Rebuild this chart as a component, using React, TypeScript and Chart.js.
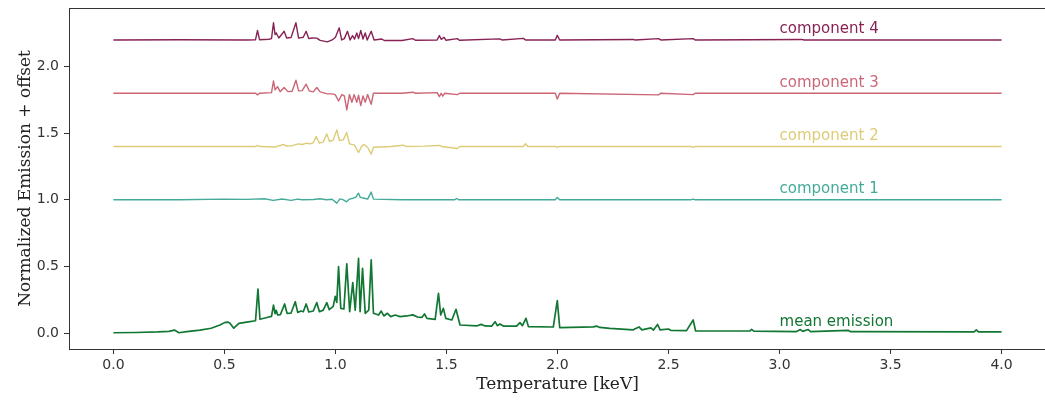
import React, { useEffect, useRef } from "react";
import { Chart, registerables } from "chart.js";

Chart.register(...registerables);

// ---------- data ----------
const X_TICKS = [0, 0.5, 1, 1.5, 2, 2.5, 3, 3.5, 4];
const Y_TICKS = [0, 0.5, 1, 1.5, 2];
const SERIES_NAMES = ["mean emission", "component 1", "component 2", "component 3", "component 4"];
const SERIES_COLORS = ["#117733", "#44AA99", "#DDCC77", "#CC6677", "#882255"];
const OFFSETS = [0, 1.0, 1.4, 1.8, 2.2];
const LABEL_X = 3.0;
const LABEL_DY = 0.05;

const meanX = [0, 0.1, 0.2, 0.25, 0.275, 0.295, 0.33, 0.39, 0.44, 0.48, 0.5, 0.515, 0.525, 0.542, 0.565, 0.6, 0.64, 0.651, 0.66, 0.7, 0.712, 0.721, 0.728, 0.733, 0.74, 0.752, 0.771, 0.782, 0.8, 0.819, 0.83, 0.845, 0.855, 0.868, 0.88, 0.9, 0.916, 0.928, 0.945, 0.961, 0.972, 0.99, 0.999, 1.006, 1.014, 1.024, 1.038, 1.051, 1.064, 1.078, 1.089, 1.104, 1.111, 1.122, 1.134, 1.15, 1.161, 1.171, 1.194, 1.206, 1.218, 1.234, 1.249, 1.269, 1.291, 1.321, 1.348, 1.37, 1.39, 1.401, 1.412, 1.449, 1.464, 1.474, 1.486, 1.497, 1.524, 1.543, 1.561, 1.636, 1.656, 1.674, 1.704, 1.719, 1.729, 1.741, 1.756, 1.816, 1.831, 1.842, 1.858, 1.869, 1.981, 1.999, 2.01, 2.161, 2.176, 2.19, 2.236, 2.341, 2.367, 2.38, 2.421, 2.432, 2.451, 2.462, 2.499, 2.51, 2.581, 2.611, 2.622, 2.866, 2.874, 2.884, 3.076, 3.094, 3.104, 3.129, 3.14, 3.309, 3.32, 3.876, 3.886, 3.896, 4.0];
const meanY = [0.002, 0.004, 0.008, 0.012, 0.022, 0.002, 0.010, 0.022, 0.036, 0.060, 0.078, 0.082, 0.074, 0.036, 0.072, 0.082, 0.092, 0.330, 0.103, 0.120, 0.125, 0.210, 0.145, 0.170, 0.135, 0.138, 0.218, 0.148, 0.150, 0.235, 0.155, 0.165, 0.160, 0.218, 0.158, 0.165, 0.228, 0.160, 0.172, 0.228, 0.175, 0.200, 0.275, 0.230, 0.499, 0.185, 0.180, 0.519, 0.160, 0.378, 0.172, 0.561, 0.160, 0.486, 0.148, 0.172, 0.549, 0.148, 0.135, 0.165, 0.128, 0.148, 0.123, 0.135, 0.123, 0.128, 0.136, 0.120, 0.118, 0.143, 0.110, 0.103, 0.298, 0.135, 0.185, 0.110, 0.098, 0.178, 0.060, 0.053, 0.065, 0.053, 0.052, 0.085, 0.055, 0.068, 0.052, 0.052, 0.078, 0.055, 0.110, 0.048, 0.045, 0.243, 0.040, 0.046, 0.052, 0.042, 0.035, 0.024, 0.046, 0.023, 0.038, 0.022, 0.064, 0.023, 0.030, 0.020, 0.018, 0.098, 0.015, 0.015, 0.027, 0.014, 0.011, 0.026, 0.012, 0.026, 0.011, 0.020, 0.010, 0.008, 0.023, 0.008, 0.008];

const comp1X = [0, 0.3, 0.5, 0.6, 0.68, 0.72, 0.76, 0.8, 0.83, 0.85, 0.9, 0.93, 0.96, 0.985, 1.006, 1.02, 1.036, 1.05, 1.062, 1.08, 1.092, 1.104, 1.112, 1.13, 1.145, 1.161, 1.171, 1.3, 1.536, 1.546, 1.556, 1.99, 1.999, 2.01, 2.6, 2.611, 2.62, 4.0];
const comp1Y = [0, 0, 0.005, 0.003, 0.008, -0.004, 0.006, -0.004, 0.005, 0, 0.002, 0.008, 0, 0.004, -0.025, 0.007, 0, -0.015, 0.005, 0.012, 0.02, 0.05, 0.018, 0.012, 0.005, 0.058, 0.005, 0, 0, 0.01, 0, 0, 0.018, 0, 0, 0.005, 0, 0];

const comp2X = [0, 0.4, 0.64, 0.649, 0.66, 0.73, 0.766, 0.78, 0.8, 0.834, 0.85, 0.871, 0.885, 0.9, 0.913, 0.928, 0.945, 0.961, 0.973, 0.99, 1.006, 1.018, 1.035, 1.051, 1.063, 1.085, 1.104, 1.119, 1.129, 1.145, 1.161, 1.171, 1.25, 1.306, 1.32, 1.4, 1.467, 1.48, 1.549, 1.56, 1.846, 1.856, 1.866, 1.99, 1.999, 2.01, 2.6, 2.611, 2.62, 4.0];
const comp2Y = [0, 0, 0, 0.008, 0, -0.003, 0.015, 0.004, 0.005, 0.02, 0.015, 0.025, 0.02, 0.028, 0.075, 0.025, 0.035, 0.095, 0.038, 0.048, 0.125, 0.045, 0.05, 0.105, 0.02, 0.012, -0.045, 0.005, 0.015, -0.005, -0.058, -0.005, 0, 0.01, 0, 0.003, 0.008, 0, -0.015, 0, 0, 0.021, 0, 0, -0.005, 0, 0, -0.006, 0, 0];

const comp3X = [0, 0.64, 0.649, 0.658, 0.712, 0.721, 0.728, 0.739, 0.751, 0.769, 0.786, 0.805, 0.822, 0.834, 0.85, 0.868, 0.882, 0.9, 0.916, 0.931, 0.964, 0.985, 0.999, 1.014, 1.029, 1.04, 1.051, 1.063, 1.074, 1.084, 1.096, 1.104, 1.114, 1.124, 1.134, 1.145, 1.161, 1.171, 1.3, 1.348, 1.36, 1.458, 1.468, 1.476, 1.483, 1.492, 1.549, 1.56, 1.99, 1.999, 2.01, 2.455, 2.465, 2.611, 2.62, 4.0];
const comp3Y = [0, 0, -0.012, 0, 0.005, 0.093, 0.025, 0.05, 0.012, 0.043, 0.012, 0.015, 0.098, 0.018, 0.02, 0.068, 0.018, 0.01, 0.043, 0.01, -0.005, -0.005, -0.01, -0.058, -0.01, -0.02, -0.125, -0.01, -0.068, -0.01, -0.068, -0.015, -0.093, -0.02, -0.068, -0.01, -0.083, 0, 0, 0.008, 0, 0.005, -0.025, 0, -0.022, 0, -0.01, 0, 0, -0.044, 0, -0.012, 0, -0.01, 0, 0];

const comp4X = [0, 0.3, 0.6, 0.64, 0.649, 0.658, 0.7, 0.712, 0.721, 0.728, 0.733, 0.745, 0.769, 0.78, 0.8, 0.822, 0.834, 0.855, 0.868, 0.88, 0.894, 0.916, 0.931, 0.964, 0.985, 1.0, 1.017, 1.028, 1.04, 1.054, 1.066, 1.077, 1.086, 1.096, 1.104, 1.114, 1.124, 1.134, 1.143, 1.161, 1.174, 1.209, 1.22, 1.3, 1.348, 1.36, 1.458, 1.468, 1.476, 1.489, 1.498, 1.549, 1.558, 1.739, 1.75, 1.847, 1.856, 1.99, 1.999, 2.01, 2.34, 2.35, 2.455, 2.465, 2.611, 2.62, 3.1, 3.11, 4.0];
const comp4Y = [0, 0.002, 0, 0.002, 0.071, 0.002, 0.005, 0.01, 0.129, 0.04, 0.053, 0.015, 0.065, 0.015, 0.018, 0.129, 0.014, 0.02, 0.065, 0.01, 0.015, 0.014, -0.003, -0.014, 0, 0.02, 0.091, 0, 0.01, 0.065, 0, 0.032, 0.007, 0.053, 0.01, 0.071, 0.007, 0.053, 0, 0.065, 0, 0.007, -0.004, -0.004, 0.01, -0.002, 0, 0.033, 0.005, 0.02, -0.002, 0.01, -0.002, 0.008, 0, 0.012, 0, 0, 0.035, 0, 0.004, 0, 0.01, 0, 0.01, 0, 0.004, 0, 0];

const SERIES_X = [meanX, comp1X, comp2X, comp3X, comp4X];
const SERIES_Y = [meanY, comp1Y, comp2Y, comp3Y, comp4Y];

const X_MIN = -0.2;
const X_MAX = 4.2;
const Y_MIN = -0.12;
const Y_MAX = 2.44;

const AXIS_COLOR = "#333333";

const framePlugin = {
  id: "frame",
  afterDatasetsDraw(chart: any) {
    const { ctx, chartArea } = chart;
    ctx.save();
    ctx.strokeStyle = AXIS_COLOR;
    ctx.lineWidth = 1;
    ctx.strokeRect(
      Math.round(chartArea.left) + 0.5,
      Math.round(chartArea.top) + 0.5,
      Math.round(chartArea.right - chartArea.left),
      Math.round(chartArea.bottom - chartArea.top)
    );
    ctx.restore();
  },
};

const labelPlugin = {
  id: "seriesLabels",
  afterDatasetsDraw(chart: any) {
    const { ctx, scales } = chart;
    ctx.save();
    ctx.font = '15px "DejaVu Sans"';
    ctx.textAlign = "left";
    ctx.textBaseline = "alphabetic";
    SERIES_NAMES.forEach((name, i) => {
      ctx.fillStyle = SERIES_COLORS[i];
      const px = scales.x.getPixelForValue(LABEL_X);
      const py = scales.y.getPixelForValue(OFFSETS[i] + LABEL_DY);
      ctx.fillText(name, px, py);
    });
    ctx.restore();
  },
};

function zeroPadding(scale: any) {
  scale.paddingTop = 0;
  scale.paddingBottom = 0;
  scale.paddingLeft = 0;
  scale.paddingRight = 0;
}

export default function App() {
  const canvasRef = useRef<HTMLCanvasElement | null>(null);

  useEffect(() => {
    document.body.style.margin = "0";
    document.body.style.overflow = "hidden";
    const canvas = canvasRef.current;
    if (!canvas) return;

    const datasets = SERIES_NAMES.map((name, i) => ({
      label: name,
      data: SERIES_X[i].map((x, j) => ({ x, y: SERIES_Y[i][j] + OFFSETS[i] })),
      borderColor: SERIES_COLORS[i],
      backgroundColor: SERIES_COLORS[i],
      borderWidth: i === 0 ? 1.7 : 1.4,
      borderJoinStyle: "round" as const,
      pointRadius: 0,
      tension: 0,
      fill: false,
    })).reverse();

    const chart = new Chart(canvas, {
      type: "line",
      data: { datasets },
      options: {
        animation: false,
        responsive: false,
        devicePixelRatio: 1,
        layout: { padding: { left: 0, top: 8, right: 10, bottom: 0 } },
        plugins: {
          legend: { display: false },
          tooltip: { enabled: false },
        },
        scales: {
          x: {
            type: "linear",
            min: X_MIN,
            max: X_MAX,
            afterBuildTicks: (scale: any) => {
              scale.ticks = X_TICKS.map((v) => ({ value: v }));
            },
            afterFit: (scale: any) => {
              scale.height = 51;
              zeroPadding(scale);
            },
            grid: {
              display: true,
              drawOnChartArea: false,
              drawTicks: true,
              tickLength: 5,
              color: AXIS_COLOR,
            },
            border: { display: false },
            ticks: {
              padding: 3,
              color: "#333333",
              font: { family: "DejaVu Sans", size: 14 },
              maxRotation: 0,
              callback: (v: any) => Number(v).toFixed(1),
            },
            title: {
              display: true,
              text: "Temperature [keV]",
              color: "#222222",
              font: { family: "DejaVu Serif", size: 17 },
              padding: { top: 0, bottom: 5 },
            },
          },
          y: {
            type: "linear",
            min: Y_MIN,
            max: Y_MAX,
            afterBuildTicks: (scale: any) => {
              scale.ticks = Y_TICKS.map((v) => ({ value: v }));
            },
            afterFit: (scale: any) => {
              scale.width = 69;
              zeroPadding(scale);
            },
            grid: {
              display: true,
              drawOnChartArea: false,
              drawTicks: true,
              tickLength: 5,
              color: AXIS_COLOR,
            },
            border: { display: false },
            ticks: {
              padding: 5,
              color: "#333333",
              font: { family: "DejaVu Sans", size: 14 },
              callback: (v: any) => Number(v).toFixed(1),
            },
            title: {
              display: true,
              text: "Normalized Emission + offset",
              color: "#222222",
              font: { family: "DejaVu Serif", size: 17 },
              padding: { top: 15, bottom: 0 },
            },
          },
        },
      },
      plugins: [framePlugin, labelPlugin],
    });

    return () => chart.destroy();
  }, []);

  return (
    <div style={{ width: 1056, height: 400, overflow: "hidden" }}>
      <canvas ref={canvasRef} width={1056} height={400} style={{ display: "block" }} />
    </div>
  );
}
